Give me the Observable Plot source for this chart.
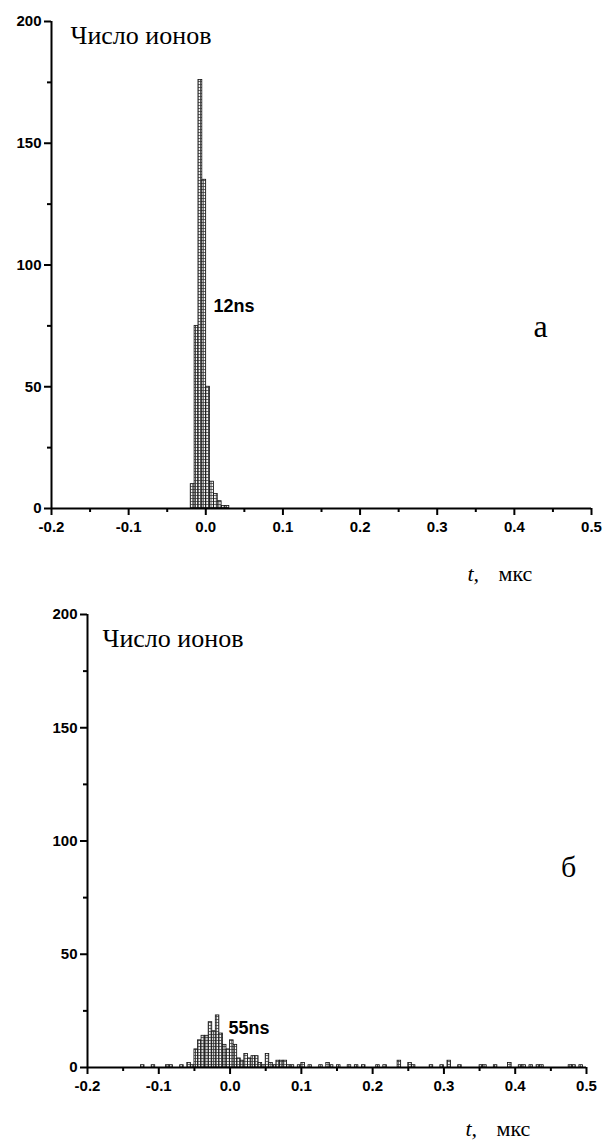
<!DOCTYPE html>
<html>
<head>
<meta charset="utf-8">
<script src="https://cdn.jsdelivr.net/npm/d3@7"></script>
<script src="https://cdn.jsdelivr.net/npm/@observablehq/plot@0.6"></script>
<style>
  html, body { margin: 0; padding: 0; background: #fff; }
  #wrap { width: 606px; height: 1142px; position: relative; overflow: hidden; background: #fff; }
  #wrap svg { display: block; }
</style>
</head>
<body>
<div id="wrap"></div>
<script>
// ---------- data ----------
// panel а : bin start (мкс) and ion counts
const topBinWidth = 0.005;
const topBinStart = [-0.0195, -0.0145, -0.0095, -0.0045, 0.0005, 0.0055, 0.0105, 0.0155, 0.0205, 0.0255];
const topCount    = [10, 75, 176, 135, 50, 11, 6, 3, 1, 1];

// panel б : bin start (мкс) and ion counts
const botBinWidth = 0.005;
const botBinStart = [-0.125, -0.11, -0.09, -0.085, -0.07, -0.06, -0.055,
  -0.05, -0.045, -0.04, -0.035, -0.03, -0.025, -0.02, -0.015, -0.01, -0.005,
  0.0, 0.005, 0.01, 0.015, 0.02, 0.025, 0.03, 0.035, 0.04, 0.045, 0.05, 0.055,
  0.06, 0.065, 0.07, 0.075, 0.08, 0.085, 0.095, 0.1, 0.11, 0.125, 0.135, 0.14,
  0.15, 0.165, 0.175, 0.185, 0.205, 0.215, 0.235, 0.25, 0.255, 0.28, 0.295,
  0.305, 0.32, 0.35, 0.355, 0.37, 0.39, 0.405, 0.41, 0.42, 0.43, 0.435, 0.475,
  0.48, 0.49];
const botCount = [1, 1, 1, 1, 1, 2, 1,
  8, 12, 14, 14, 20, 16, 23, 15, 10, 8,
  12, 10, 4, 3, 6, 4, 5, 5, 2, 1, 6, 2,
  1, 3, 3, 3, 1, 1, 1, 2, 1, 1, 2, 1,
  1, 1, 1, 1, 1, 1, 3, 2, 1, 1, 1,
  3, 1, 1, 1, 1, 2, 1, 1, 1, 1, 1, 1,
  1, 1];

// axes
const xDomain = [-0.2, 0.5];
const yDomain = [0, 200];
const xMajor = [-0.2, -0.1, 0.0, 0.1, 0.2, 0.3, 0.4, 0.5];
const xMajorLabels = ["-0.2", "-0.1", "0.0", "0.1", "0.2", "0.3", "0.4", "0.5"];
const xMinor = [-0.15, -0.05, 0.05, 0.15, 0.25, 0.35, 0.45];
const yMajor = [0, 50, 100, 150, 200];
const yMajorLabels = ["0", "50", "100", "150", "200"];
const yMinor = [25, 75, 125, 175];

// texts
const yTitle = "Число ионов";
const xTitleVar = "t";
const xTitleUnit = "мкс";
const topLetter = "а";
const botLetter = "б";
const topWidthLabel = "12ns";
const botWidthLabel = "55ns";

const topData = topBinStart.map((t, i) => ({t, n: topCount[i]}));
const botData = botBinStart.map((t, i) => ({t, n: botCount[i]}));

const serif = "'Liberation Serif', 'Times New Roman', serif";
const sans = "'Liberation Sans', Arial, sans-serif";

function addPattern(svg, id) {
  const defs = d3.select(svg).insert("defs", ":first-child");
  const p = defs.append("pattern").attr("id", id)
    .attr("patternUnits", "userSpaceOnUse").attr("width", 2.6).attr("height", 3);
  p.append("rect").attr("width", 2.6).attr("height", 3).attr("fill", "#f4f4f4");
  p.append("path").attr("d", "M0.4,0V3M0,0.4H2.6")
    .attr("stroke", "#3a3a3a").attr("stroke-width", 0.9).attr("fill", "none");
}

function panel(o) {
  const xIdx = v => xMajor.indexOf(v);
  const yIdx = v => yMajor.indexOf(v);
  const svg = Plot.plot({
    width: 606,
    height: o.height,
    marginTop: o.mt, marginBottom: o.mb, marginLeft: o.ml, marginRight: o.mr,
    style: {background: "#fff", color: "#000", fontFamily: sans, fontSize: "15px", fontWeight: "bold"},
    x: {domain: xDomain, axis: null},
    y: {domain: yDomain, axis: null},
    marks: [
      Plot.rectY(o.data, {x1: "t", x2: d => d.t + o.bw, y: "n",
        fill: `url(#${o.pid})`, stroke: "#111", strokeWidth: 0.8}),
      Plot.ruleY([0], {x1: xDomain[0], x2: xDomain[1], stroke: "#000", strokeWidth: 2}),
      Plot.ruleX([xDomain[0]], {y1: yDomain[0], y2: yDomain[1], stroke: "#000", strokeWidth: 2}),
      Plot.axisX(xMajor, {tickSize: 7, tickPadding: 6, strokeWidth: 2, label: null,
        tickFormat: v => xMajorLabels[xIdx(v)], fontSize: 15, fontWeight: "bold"}),
      Plot.axisX(xMinor, {tickSize: 4, strokeWidth: 2, label: null, tickFormat: () => ""}),
      Plot.axisY(yMajor, {tickSize: 7, tickPadding: 3, strokeWidth: 2, label: null,
        tickFormat: v => yMajorLabels[yIdx(v)], fontSize: 15, fontWeight: "bold"}),
      Plot.axisY(yMinor, {tickSize: 4, strokeWidth: 2, label: null, tickFormat: () => ""}),
      Plot.text([yTitle], {text: d => d, frameAnchor: "top-left", dx: o.yt[0], dy: o.yt[1],
        textAnchor: "start", lineAnchor: "middle", fontFamily: serif, fontWeight: "normal", fontSize: 26, fill: "#000"}),
      Plot.text([o.letter], {text: d => d, frameAnchor: "top-left", dx: o.lt[0], dy: o.lt[1],
        textAnchor: "middle", lineAnchor: "middle", fontFamily: serif, fontWeight: "normal", fontSize: o.lsize, fill: "#000"}),
      Plot.text([o.wlabel], {text: d => d, frameAnchor: "top-left", dx: o.wl[0], dy: o.wl[1],
        textAnchor: "start", lineAnchor: "middle", fontFamily: sans, fontWeight: "bold", fontSize: 18, fill: "#000"}),
      Plot.text([xTitleVar + ","], {text: d => d, frameAnchor: "bottom-left", dx: o.xt[0], dy: o.xt[1],
        textAnchor: "start", lineAnchor: "middle", fontFamily: serif, fontWeight: "normal", fontStyle: "italic", fontSize: 22, fill: "#000"}),
      Plot.text([xTitleUnit], {text: d => d, frameAnchor: "bottom-left", dx: o.xt[0] + 31, dy: o.xt[1],
        textAnchor: "start", lineAnchor: "middle", fontFamily: serif, fontWeight: "normal", fontSize: 22, fill: "#000"})
    ]
  });
  addPattern(svg, o.pid);
  return svg;
}

const wrap = document.getElementById("wrap");
wrap.appendChild(panel({
  data: topData, bw: topBinWidth, pid: "hatchA",
  height: 590, mt: 21, mb: 82, ml: 51, mr: 15,
  yt: [19, 14], letter: topLetter, lt: [489, 305], lsize: 32,
  wlabel: topWidthLabel, wl: [162, 285],
  xt: [416, 65]
}));
wrap.appendChild(panel({
  data: botData, bw: botBinWidth, pid: "hatchB",
  height: 552, mt: 24, mb: 75, ml: 87, mr: 20,
  yt: [15, 24], letter: botLetter, lt: [481, 253], lsize: 30,
  wlabel: botWidthLabel, wl: [141, 414],
  xt: [378, 61]
}));
</script>
</body>
</html>
